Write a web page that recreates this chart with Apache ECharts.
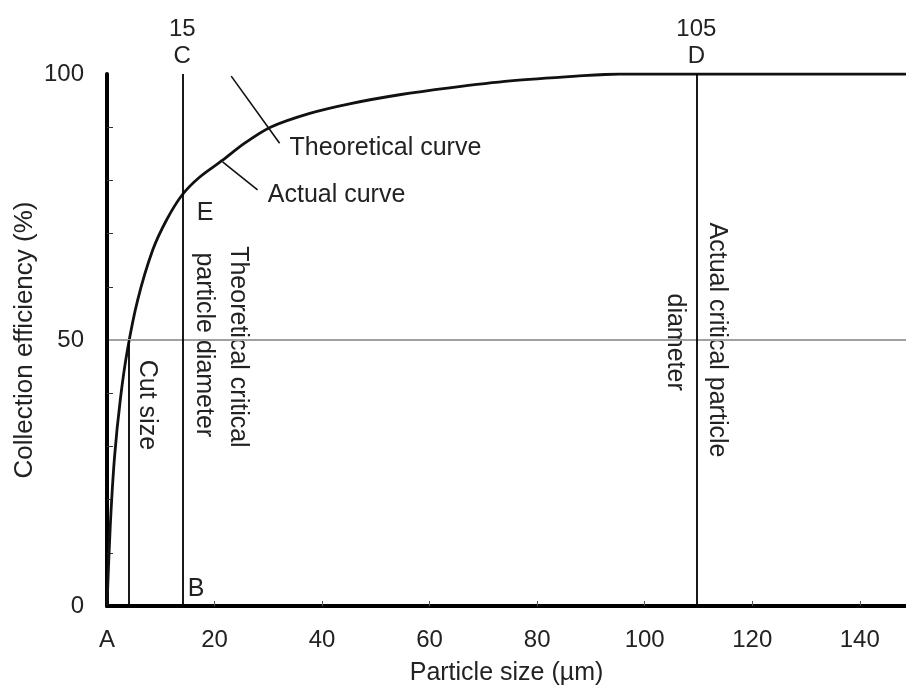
<!DOCTYPE html>
<html lang="en">
<head>
<meta charset="UTF-8">
<title>Collection efficiency</title>
<script src="https://cdn.jsdelivr.net/npm/echarts@6/dist/echarts.min.js"></script>
<style>
  html, body { margin: 0; padding: 0; background: #fff; }
  #main { width: 906px; height: 685px; }
</style>
</head>
<body>
<div id="main"></div>
<script>
// actual efficiency curve (particle size um, efficiency %)
var actualX = [0, 0.6, 1.4, 2.5, 3.8, 5.7, 8.5, 11.1, 14.0, 17.2, 21.5, 25.6, 30.4, 37.7, 45.1, 54.4, 63.7, 75, 87.3, 95.3, 148.6];
var actualY = [0, 14.9, 28, 39, 48.1, 57.5, 66.9, 72.6, 77.3, 80.6, 83.8, 87, 90, 92.6, 94.4, 96.1, 97.4, 98.7, 99.6, 100, 100];

// leader lines for the two curve captions
var theoPointer = [[23.1, 99.6], [32.1, 87.0]];
var actualPointer = [[21.5, 83.5], [28.0, 78.2]];

// vertical reference lines
var cutSize = 4.1;
var critTheory = 14.0;
var critActual = 109.6;
var topLabels = ['15\nC', '105\nD'];

var xTicks = [0, 20, 40, 60, 80, 100, 120, 140];
var yLabels = [0, 50, 100];
var yMinor = [10, 20, 30, 40, 60, 70, 80, 90];

// text notes: [x, y, text, rotate, align]
var notes = [
  [33.95, 86.1, 'Theoretical curve', 0, 'left'],
  [29.9, 77.3, 'Actual curve', 0, 'left'],
  [16.7, 73.9, 'E', 0, 'left'],
  [15.0, 3.1, 'B', 0, 'left'],
  [7.5, 37.8, 'Cut size', -90, 'center'],
  [24.3, 48.7, 'Theoretical critical', -90, 'center'],
  [17.95, 49.1, 'particle diameter', -90, 'center'],
  [113.4, 50, 'Actual critical particle', -90, 'center'],
  [105.6, 49.6, 'diameter', -90, 'center']
];

var txt = '#222';
var font = 'Liberation Sans';

var curve = actualX.map(function (x, i) { return [x, actualY[i]]; });

var chart = echarts.init(document.getElementById('main'));
var option = {
  backgroundColor: '#fff',
  animation: false,
  textStyle: { fontFamily: font },
  grid: { left: 107, right: 0, top: 74, bottom: 79, outerBoundsMode: 'none' },
  xAxis: [{
    type: 'value', min: 0, max: 148.6,
    name: 'Particle size (\u00b5m)', nameLocation: 'middle', nameGap: 55,
    nameTextStyle: { fontSize: 25, color: txt },
    axisLine: { show: true, onZero: false, lineStyle: { color: '#000', width: 4 } },
    axisTick: { show: true, inside: true, length: 5, customValues: xTicks.slice(1), lineStyle: { color: '#555' } },
    axisLabel: {
      customValues: xTicks, fontSize: 24, color: txt, margin: 22,
      formatter: function (v) { return v === 0 ? 'A' : String(v); }
    },
    splitLine: { show: false }
  }, {
    type: 'value', min: 0, max: 148.6, position: 'top',
    axisLine: { show: true, lineStyle: { color: '#000', width: 3 } },
    axisTick: { show: false }, axisLabel: { show: false }, splitLine: { show: false }
  }],
  yAxis: {
    type: 'value', min: 0, max: 100,
    name: 'Collection efficiency (%)', nameLocation: 'middle', nameGap: 69,
    nameMoveOverlap: false,
    nameTextStyle: { fontSize: 26, color: txt },
    axisLine: { show: true, lineStyle: { color: '#000', width: 4 } },
    axisTick: { show: true, inside: true, length: 6, customValues: yMinor, lineStyle: { color: '#333' } },
    axisLabel: { customValues: yLabels, fontSize: 24, color: txt, margin: 23, padding: [6, 0, 0, 0] },
    splitLine: { show: false }
  },
  series: [{
    type: 'line', data: curve, smooth: 0.3, showSymbol: false,
    lineStyle: { color: '#111', width: 2.8 },
    markLine: {
      silent: true, symbol: 'none',
      lineStyle: { type: 'solid' },
      data: [
        [{ yAxis: 50, x: 109, lineStyle: { color: '#a0a0a0', width: 2 }, label: { show: false } },
         { yAxis: 50, x: 906 }],
        [{ coord: [cutSize, 0], lineStyle: { color: '#000', width: 1.8 }, label: { show: false } },
         { coord: [cutSize, 50] }],
        [{ coord: [critTheory, 0], lineStyle: { color: '#000', width: 1.8 },
           label: { show: true, position: 'end', formatter: topLabels[0], fontSize: 24, color: txt, lineHeight: 27, distance: 4 } },
         { coord: [critTheory, 100] }],
        [{ coord: [critActual, 0], lineStyle: { color: '#000', width: 1.8 },
           label: { show: true, position: 'end', formatter: topLabels[1], fontSize: 24, color: txt, lineHeight: 27, distance: 4 } },
         { coord: [critActual, 100] }]
      ]
    }
  }, {
    type: 'line', data: theoPointer, showSymbol: false,
    lineStyle: { color: '#111', width: 1.6 }
  }, {
    type: 'line', data: actualPointer, showSymbol: false,
    lineStyle: { color: '#111', width: 1.6 }
  }, {
    type: 'scatter', symbolSize: 0,
    itemStyle: { opacity: 1 },
    data: notes.map(function (n) {
      return {
        value: [n[0], n[1]],
        label: {
          show: true, formatter: n[2], rotate: n[3],
          position: n[4] === 'left' ? 'right' : 'inside',
          distance: 0, align: n[4], verticalAlign: 'middle',
          fontSize: 25, color: txt
        }
      };
    })
  }]
};
chart.setOption(option);
</script>
</body>
</html>
